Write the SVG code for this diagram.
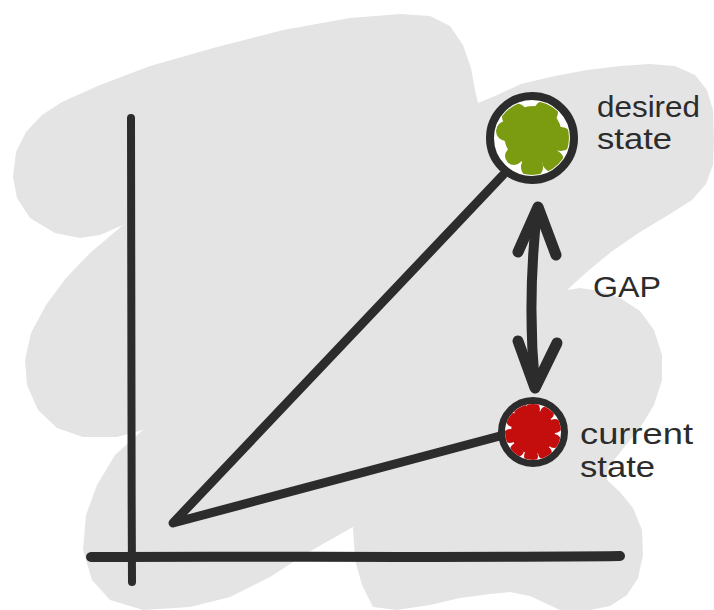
<svg xmlns="http://www.w3.org/2000/svg" width="714" height="610" viewBox="0 0 714 610">
  <style>
    .ink { stroke: #2c2c2c; fill: none; stroke-linecap: round; stroke-linejoin: round; }
    .label { font-family: "Liberation Sans", "Open Sans", sans-serif; font-size: 29px; fill: #2c2c2c; }
    .ring { fill: #ffffff; stroke: #2c2c2c; }
  </style>
  <defs>
    <clipPath id="desiredInner"><circle cx="532" cy="138" r="37"/></clipPath>
    <clipPath id="currentInner"><circle cx="533" cy="432" r="28"/></clipPath>
  </defs>

  <rect width="714" height="610" fill="#ffffff"/>

  <!-- scribbled grey backdrop -->
  <path id="backdrop" fill="#e4e4e4" d="M13,177 L16,152 L26,132 L42,115 L62,102 L100,85 L150,66 L217,47 L283,30 L350,18 L400,14 L430,16 L450,26 L463,45 L471,68 L475,90 L478,103
    L495,96 L521,84 L555,76 L587,70 L620,66 L650,64 L675,66 L695,75 L707,90 L713,110 L714,140 L713,165 L706,184 L692,200 L670,214 L640,232 L611,252 L588,271 L567,290
    L580,288 L600,291 L620,298 L640,311 L654,330 L662,355 L662,380 L654,405 L640,428 L622,450 L608,468 L607,480 L620,492 L633,508 L642,530 L643,555 L638,578 L627,595 L610,606 L590,610 L560,610 L530,596 L510,592 L490,594 L460,598 L430,605 L397,610 L373,607 L362,585 L355,560 L353,527
    L330,540 L307,553 L270,577 L230,597 L190,607 L143,610 L110,600 L92,580 L83,550 L86,515 L97,485 L115,455 L143,430
    L117,437 L83,437 L57,428 L38,410 L27,385 L25,360 L31,333 L46,305 L66,278 L90,253 L123,225
    L100,235 L80,238 L55,233 L30,218 L17,198 Z"/>

  <!-- axes -->
  <g id="axes" class="ink">
    <path d="M131,118 C132,250 131,420 132,582" stroke-width="8"/>
    <path d="M91,557 C250,556 450,558 620,556" stroke-width="10"/>
  </g>

  <!-- connectors -->
  <g id="connectors" class="ink">
    <path d="M503,175 L173,523 L500,436" stroke-width="9"/>
    <!-- double-headed gap arrow -->
    <path d="M537,212 Q527,300 535,386" stroke-width="10"/>
    <path d="M518,252 L538,207 L556,255" stroke-width="11"/>
    <path d="M518,341 L535,388 L557,343" stroke-width="11"/>
  </g>

  <!-- desired state node -->
  <g id="desired-state">
    <circle class="ring" cx="532" cy="138" r="42" stroke-width="8"/>
    <g clip-path="url(#desiredInner)" fill="#7b9b10">
      <circle cx="533" cy="135" r="29"/>
      <circle cx="515" cy="116" r="13"/>
      <circle cx="546" cy="112" r="12"/>
      <circle cx="561" cy="139" r="12"/>
      <circle cx="553" cy="161" r="11"/>
      <circle cx="532" cy="167" r="11"/>
      <circle cx="514" cy="156" r="9"/>
      <circle cx="506" cy="131" r="10"/>
    </g>
    <text class="label" x="597" y="117" textLength="103" lengthAdjust="spacingAndGlyphs">desired</text>
    <text class="label" x="597" y="149" textLength="75" lengthAdjust="spacingAndGlyphs">state</text>
  </g>

  <!-- gap label -->
  <g id="gap">
    <text class="label" x="593" y="297" font-size="32" textLength="68" lengthAdjust="spacingAndGlyphs">GAP</text>
  </g>

  <!-- current state node -->
  <g id="current-state">
    <circle class="ring" cx="533" cy="432" r="31.5" stroke-width="7"/>
    <g clip-path="url(#currentInner)" fill="#c40e0e">
      <circle cx="533" cy="432" r="22"/>
      <circle cx="533" cy="409" r="7"/>
      <circle cx="547" cy="413" r="7"/>
      <circle cx="555" cy="426" r="7"/>
      <circle cx="554" cy="441" r="7"/>
      <circle cx="545" cy="453" r="7"/>
      <circle cx="531" cy="456" r="7"/>
      <circle cx="517" cy="450" r="7"/>
      <circle cx="510" cy="436" r="7"/>
      <circle cx="513" cy="420" r="7"/>
      <circle cx="521" cy="410" r="7"/>
    </g>
    <text class="label" x="580" y="444" textLength="113" lengthAdjust="spacingAndGlyphs">current</text>
    <text class="label" x="580" y="477" textLength="75" lengthAdjust="spacingAndGlyphs">state</text>
  </g>
</svg>
